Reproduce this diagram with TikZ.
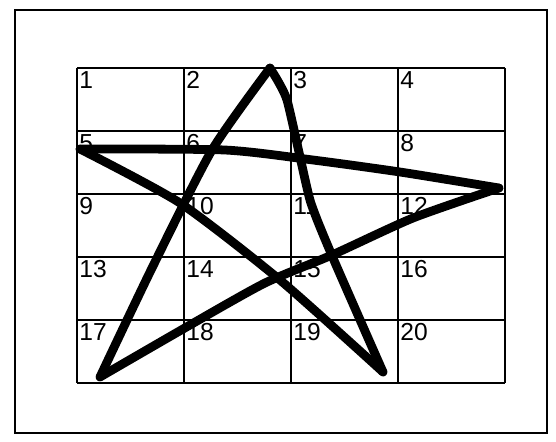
\documentclass[tikz,border=0pt]{standalone}
\usepackage{fontspec}
\setmainfont{Liberation Sans}
\usetikzlibrary{calc}

\begin{document}
\begin{tikzpicture}[x=0.02cm, y=-0.02cm,
    gridline/.style={line width=1.1pt},
    cellnum/.style={anchor=north west, inner sep=0pt, font=\fontsize{14}{16}\selectfont},
    starline/.style={line width=5pt, line cap=round, line join=round}]
  \useasboundingbox (0,0) rectangle (556,441);
  \draw[gridline] (15,10) rectangle (547,433);
  % 4 x 5 grid
  \foreach \c in {0,...,4} \draw[gridline] (77+\c*107,68) -- (77+\c*107,383);
  \foreach \r in {0,...,5} \draw[gridline] (77,68+\r*63) -- (505,68+\r*63);
  \foreach \i in {1,...,20} {
    \pgfmathtruncatemacro\cc{mod(\i-1,4)}
    \pgfmathtruncatemacro\rr{div(\i-1,4)}
    \node[cellnum] (n\i) at (79+\cc*107,71+\rr*63) {\i};
  }
  % star points
  \coordinate (top) at (270,68);
  \coordinate (left) at (80,149);
  \coordinate (right) at (499,188);
  \coordinate (bl) at (100,377);
  \coordinate (br) at (383,372);
  \draw[starline] plot[smooth, tension=0.4] coordinates {(top) (212,150) (152,268) (bl)};
  \draw[starline] plot[smooth, tension=0.4] coordinates {(bl) (190,325) (265,283) (332,255) (413,218) (right)};
  \draw[starline] plot[smooth, tension=0.4] coordinates {(right) (400,172) (313,160) (225,150) (left)};
  \draw[starline] plot[smooth, tension=0.4] coordinates {(left) (180,203) (280,280) (br)};
  \draw[starline] plot[smooth, tension=0.3] coordinates {(br) (333,258) (310,200) (287,100) (top)};
\end{tikzpicture}
\end{document}
